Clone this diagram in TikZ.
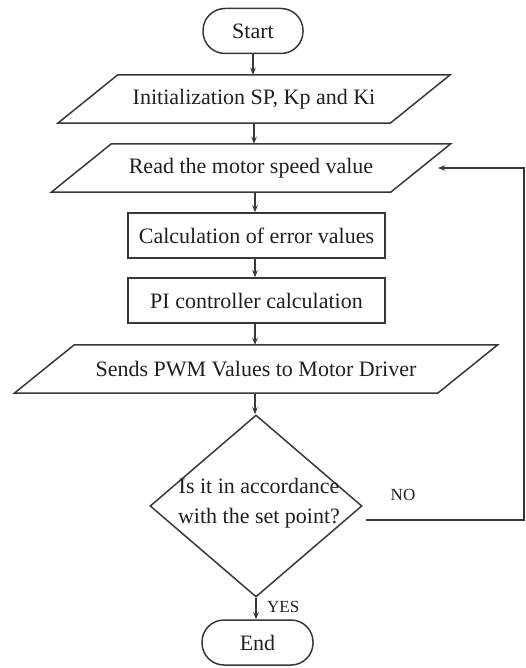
\documentclass[tikz,border=0pt]{standalone}
\usepackage{fontspec}
\setmainfont{Liberation Serif}
\usetikzlibrary{shapes.geometric,arrows.meta,calc}
\begin{document}
\begin{tikzpicture}[x=1pt,y=-1pt,
  line/.style={draw=black!78, line width=1.5pt},
  arr/.style={line, -{Stealth[length=7pt,width=5.5pt]}},
  term/.style={line, rectangle, rounded corners=22pt, minimum height=45pt, inner sep=0},
  proc/.style={line, rectangle, minimum width=257pt, minimum height=45pt, inner sep=0},
  io/.style={rectangle, minimum height=48pt, inner sep=0},
  txt/.style={font=\fontsize{22}{26}\selectfont, text=black!88},
  lbl/.style={font=\fontsize{17}{20}\selectfont, text=black!88},
  iopath/.style={line, line join=miter}
]
\useasboundingbox (0,0) rectangle (526,668);

% nodes
\node[term, txt, minimum width=100pt] (start) at (253,31) {Start};
\node[io, txt, minimum width=332pt] (init) at (254,99) {Initialization SP, Kp and Ki};
\node[io, txt, minimum width=339pt] (read) at (251,168) {Read the motor speed value};
\node[proc, txt] (calc) at (256.5,235.5) {Calculation of error values};
\node[proc, txt] (pi) at (256.5,300.5) {PI controller calculation};
\node[io, txt, minimum width=423pt] (sends) at (256,369) {Sends PWM Values to Motor Driver};
\node[line, diamond, minimum width=212pt, minimum height=182pt, inner sep=0] (dec) at (256,506) {};
\node[txt, align=center, inner sep=0] (dtext) at (259,503) {Is it in accordance\\[4pt]with the set point?};
\node[term, txt, minimum width=111pt] (end) at (257.5,642.5) {End};
\node[lbl, anchor=west, inner sep=0] (yes) at (267,607) {YES};
\node[lbl, inner sep=0] (no) at (403,495) {NO};

% parallelogram outlines
\foreach \n in {init,read,sends}{
  \draw[iopath] ($(\n.north west)+(30,0)$) -- ($(\n.north east)+(30,0)$)
     -- ($(\n.south east)+(-30,0)$) -- ($(\n.south west)+(-30,0)$) -- cycle;
}

% connectors
\draw[arr] (start.south) -- (start.south |- init.north);
\draw[arr] (init.south) -- (init.south |- read.north);
\draw[arr] (255,192) coordinate (r1) -- (r1 |- calc.north);
\draw[arr] (calc.south -| r1) -- (r1 |- pi.north);
\draw[arr] (pi.south -| r1) -- (r1 |- sends.north);
\draw[arr] (sends.south -| r1) -- (r1 |- dec.north);
\draw[arr] (dec.south) -- (dec.south |- end.north);

\coordinate (noS) at (366,520);
\coordinate (loopE) at (438,168);
\coordinate (rx) at (524,0);
\draw[arr] (noS) -| (rx |- loopE) -- (loopE);
\end{tikzpicture}
\end{document}
